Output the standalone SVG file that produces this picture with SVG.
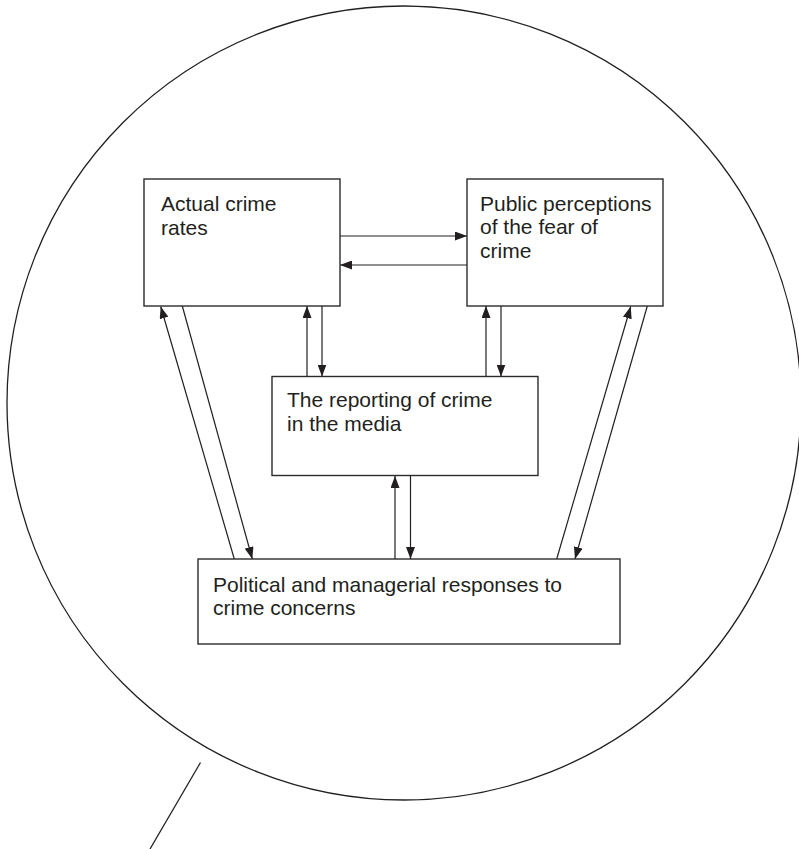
<svg xmlns="http://www.w3.org/2000/svg" width="799" height="849" viewBox="0 0 799 849">
<style>
.box{fill:#fff;stroke:#2b2b2b;stroke-width:1.4}
.lbl{font-family:"Liberation Sans",Arial,sans-serif;font-size:21px;fill:#231f20}
.con line{stroke:#231f20;stroke-width:1.2;fill:none}
.arr{marker-end:url(#ah)}
.outline{fill:none;stroke:#231f20;stroke-width:1.3}
</style>
<defs>
<marker id="ah" markerUnits="userSpaceOnUse" markerWidth="12" markerHeight="9" refX="12" refY="4.5" orient="auto" viewBox="0 0 12 9">
<path d="M0,0 L12,4.5 L0,9 z" fill="#231f20"/>
</marker>
</defs>
<g id="bubble">
<circle class="outline" cx="404" cy="403" r="397"/>
<line class="outline" x1="200.5" y1="762.5" x2="150" y2="849"/>
</g>
<g id="connectors" class="con">
<line class="arr" x1="340" y1="236" x2="467" y2="236"/>
<line class="arr" x1="467" y1="265" x2="340" y2="265"/>
<line class="arr" x1="307" y1="376.5" x2="307" y2="306"/>
<line class="arr" x1="322" y1="306" x2="322" y2="376.5"/>
<line class="arr" x1="486" y1="376.5" x2="486" y2="306"/>
<line class="arr" x1="501" y1="306" x2="501" y2="376.5"/>
<line class="arr" x1="395" y1="559" x2="395" y2="476"/>
<line class="arr" x1="410.5" y1="476" x2="410.5" y2="559"/>
<line class="arr" x1="234.3" y1="559" x2="160.7" y2="306.5"/>
<line class="arr" x1="182.3" y1="306" x2="252.3" y2="559"/>
<line class="arr" x1="556.7" y1="559" x2="630.7" y2="306.5"/>
<line class="arr" x1="647.3" y1="306" x2="575" y2="559"/>
</g>
<g id="actual">
<rect class="box" x="144" y="179" width="196" height="127"/>
<text class="lbl" x="161" y="211">Actual crime</text>
<text class="lbl" x="161" y="235">rates</text>
</g>
<g id="public">
<rect class="box" x="467" y="179" width="196" height="127"/>
<text class="lbl" x="480" y="210.5">Public perceptions</text>
<text class="lbl" x="480" y="234">of the fear of</text>
<text class="lbl" x="480" y="257.5">crime</text>
</g>
<g id="media">
<rect class="box" x="272" y="376.5" width="266" height="99"/>
<text class="lbl" x="287" y="406.5">The reporting of crime</text>
<text class="lbl" x="287" y="430.5">in the media</text>
</g>
<g id="political">
<rect class="box" x="198" y="559" width="422" height="85"/>
<text class="lbl" x="213" y="591.5">Political and managerial responses to</text>
<text class="lbl" x="213" y="615">crime concerns</text>
</g>
</svg>
